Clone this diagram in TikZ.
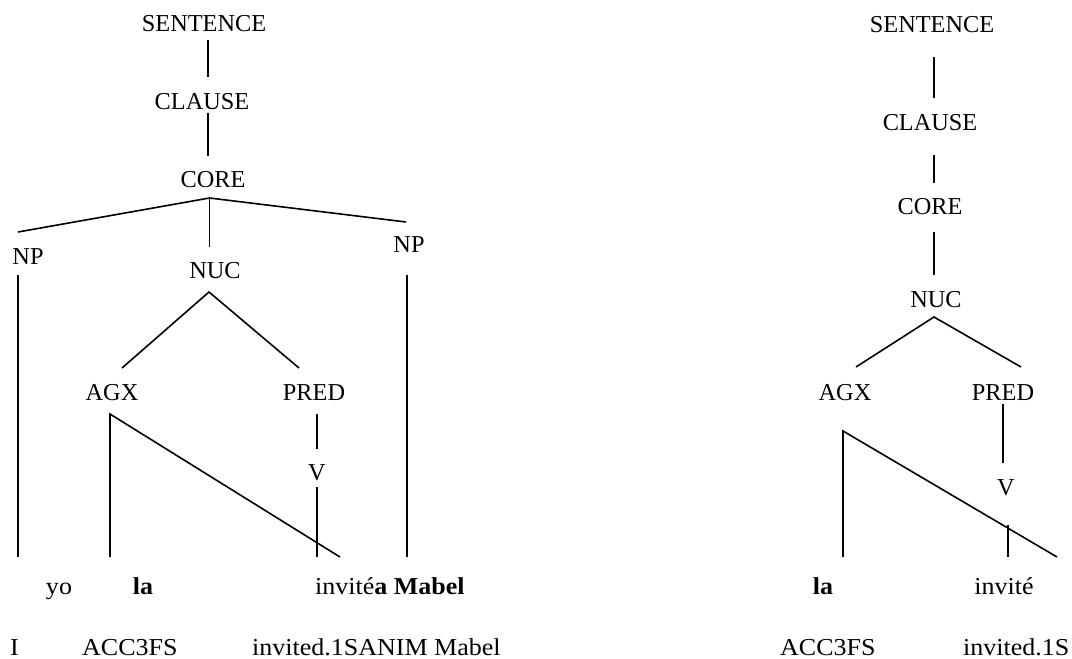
\documentclass[tikz,border=0pt]{standalone}
\usepackage{fontspec}
\setmainfont{Liberation Serif}
\newfontfamily\widefont{Liberation Serif}[FakeStretch=1.07]
\begin{document}
\begin{tikzpicture}[x=1pt,y=-1pt,
  lbl/.style={inner sep=0pt, font=\fontsize{24.3}{28}\selectfont},
  wrd/.style={inner sep=0pt, anchor=base, font=\widefont\fontsize{24.3}{28}\selectfont},
  wrdw/.style={inner sep=0pt, anchor=base west, font=\widefont\fontsize{24.3}{28}\selectfont},
  gls/.style={inner sep=0pt, anchor=base west, font=\widefont\fontsize{24.3}{28}\selectfont},
  edge/.style={line width=1.6pt}]
\useasboundingbox[fill=white] (0,0) rectangle (1072,659);
% ---------- left tree ----------
\node[lbl] (s1) at (204,24) {SENTENCE};
\node[lbl] (c1) at (202,102) {CLAUSE};
\node[lbl] (k1) at (213,180) {CORE};
\node[lbl] (np1) at (28,257) {NP};
\node[lbl] (n1) at (215,271) {NUC};
\node[lbl] (np2) at (409,245) {NP};
\node[lbl] (a1) at (112,393) {AGX};
\node[lbl] (p1) at (314,393) {PRED};
\node[lbl] (v1) at (317,473) {V};
\node[wrd] (yo) at (59,594) {yo};
\node[wrd] (la1) at (143,594) {\textbf{la}};
\node[wrdw] (inv1) at (315,594) {invit\'e\textbf{a Mabel}};
\node[gls] (g1) at (10,655) {I};
\node[gls] (g2) at (82,655) {ACC3FS};
\node[gls] (g3) at (252,655) {invited.1SANIM Mabel};
\coordinate (s1b) at (208,40);  \coordinate (c1t) at (208,77);
\coordinate (c1b) at (208,113); \coordinate (k1t) at (208,156);
\coordinate (k1b) at (209.5,198);
\coordinate (np1t) at (18,232); \coordinate (n1t) at (209.5,247); \coordinate (np2t) at (406,222);
\coordinate (np1b) at (18,275); \coordinate (np1e) at (18,557);
\coordinate (np2b) at (407,275); \coordinate (np2e) at (407,557);
\coordinate (n1b) at (209,292);
\coordinate (a1t) at (122,368); \coordinate (p1t) at (299,368);
\coordinate (p1b) at (317,414); \coordinate (v1t) at (317,449);
\coordinate (v1b) at (317,487); \coordinate (v1e) at (317,557);
\coordinate (a1b) at (110,414); \coordinate (la1t) at (110,557); \coordinate (inv1t) at (340,557);
\draw[edge] (s1b) -- (c1t);
\draw[edge] (c1b) -- (k1t);
\draw[edge] (np1t) -- (k1b) -- (np2t);
\draw[edge] (k1b) -- (n1t);
\draw[edge] (np1b) -- (np1e);
\draw[edge] (np2b) -- (np2e);
\draw[edge] (a1t) -- (n1b) -- (p1t);
\draw[edge] (p1b) -- (v1t);
\draw[edge] (v1b) -- (v1e);
\draw[edge] (la1t) -- (a1b) -- (inv1t);
% ---------- right tree ----------
\node[lbl] (s2) at (932,25) {SENTENCE};
\node[lbl] (c2) at (930,123) {CLAUSE};
\node[lbl] (k2) at (930,207) {CORE};
\node[lbl] (n2) at (936,300) {NUC};
\node[lbl] (a2) at (845,393) {AGX};
\node[lbl] (p2) at (1003,393) {PRED};
\node[lbl] (v2) at (1006,488) {V};
\node[wrd] (la2) at (823,594) {\textbf{la}};
\node[wrd] (inv2) at (1004,594) {invit\'e};
\node[gls] (g4) at (780,655) {ACC3FS};
\node[gls] (g5) at (963,655) {invited.1S};
\coordinate (s2b) at (934,57);  \coordinate (c2t) at (934,98);
\coordinate (c2b) at (934,155); \coordinate (k2t) at (934,183);
\coordinate (k2b) at (934,232); \coordinate (n2t) at (934,275);
\coordinate (n2b) at (934,317);
\coordinate (a2t) at (856,367); \coordinate (p2t) at (1021,367);
\coordinate (p2b) at (1003,404); \coordinate (v2t) at (1003,463);
\coordinate (v2b) at (1008,525); \coordinate (v2e) at (1008,557);
\coordinate (a2b) at (843,431); \coordinate (la2t) at (843,557); \coordinate (inv2t) at (1057,557);
\draw[edge] (s2b) -- (c2t);
\draw[edge] (c2b) -- (k2t);
\draw[edge] (k2b) -- (n2t);
\draw[edge] (a2t) -- (n2b) -- (p2t);
\draw[edge] (p2b) -- (v2t);
\draw[edge] (v2b) -- (v2e);
\draw[edge] (la2t) -- (a2b) -- (inv2t);
\end{tikzpicture}
\end{document}
